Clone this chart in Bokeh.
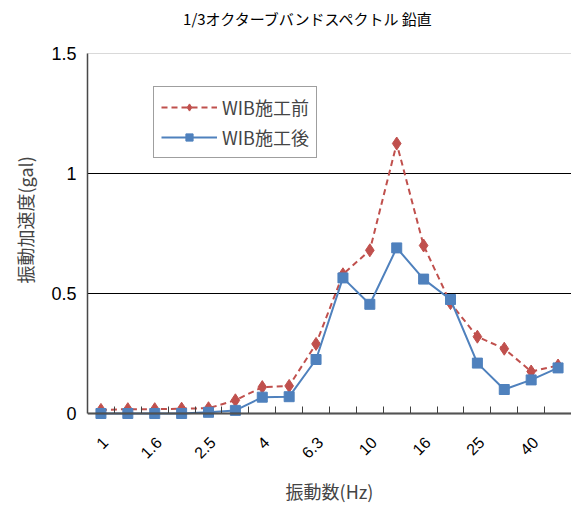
import math
from bokeh.plotting import figure
from bokeh.models import (FixedTicker, Legend, LegendItem, Range1d, Label,
                          LinearAxis, BoxAnnotation, Title)
from bokeh.embed import file_html
from bokeh.resources import INLINE

freqs = ["1", "1.25", "1.6", "2", "2.5", "3.15", "4", "5", "6.3", "8", "10",
         "12.5", "16", "20", "25", "31.5", "40", "50"]
before = [0.015, 0.018, 0.018, 0.02, 0.022, 0.055, 0.11, 0.115, 0.29, 0.58, 0.68,
          1.125, 0.70, 0.46, 0.32, 0.27, 0.175, 0.20]
after = [0.0, 0.0, 0.0, 0.0, 0.005, 0.013, 0.068, 0.07, 0.225, 0.565, 0.455,
         0.69, 0.56, 0.475, 0.21, 0.10, 0.14, 0.19]
yticks = [0, 0.5, 1, 1.5]
ylabels = ["0", "0.5", "1", "1.5"]

title = "1/3オクターブバンドスペクトル 鉛直"
xlabel = "振動数(Hz)"
ylabel = "振動加速度(gal)"
name_before = "WIB施工前"
name_after = "WIB施工後"

RED = "#C0504D"
BLUE = "#4F81BD"
JP = "Noto Sans CJK JP"
NUM = "Liberation Sans"

xs = list(range(len(freqs)))
x0, x1 = -0.5, len(freqs) - 0.5
y0, y1 = yticks[0], yticks[-1]

# layout (pixels): the 0..1.5 box spans y=53..413; the frame extends
# above and below it so that the title and rotated labels are inside it
BOX_TOP, BOX_H = 53, 360
TOP, LEFT = 5, 86
FRAME_W, FRAME_H = 484, 460
PX_PER_UNIT = BOX_H / (y1 - y0)
yend = y1 + (BOX_TOP - TOP) / PX_PER_UNIT
ystart = yend - FRAME_H / PX_PER_UNIT

p = figure(width=None, height=None, frame_width=FRAME_W, frame_height=FRAME_H,
           output_backend="svg", toolbar_location=None, x_axis_location=None,
           x_range=Range1d(x0, x1), y_range=Range1d(ystart, yend),
           min_border_left=LEFT, min_border_right=0, min_border_top=TOP,
           min_border_bottom=38)
p.title = None

p.outline_line_color = None
p.background_fill_color = "white"
p.border_fill_color = "white"

# chart title
p.add_layout(Label(x=(x0 + x1) / 2, y=y1, text=title, x_offset=-21,
                   y_offset=BOX_TOP - 18, text_align="center",
                   text_baseline="middle", text_font=JP,
                   text_font_size="15px", text_color="black"))

# plot area border
p.add_layout(BoxAnnotation(left=x0, right=x1, bottom=y0, top=y1,
                           fill_alpha=0, line_color="#808080", line_width=1))

for g in p.xgrid:
    g.grid_line_color = None
p.ygrid.ticker = FixedTicker(ticks=yticks[1:-1])
p.ygrid.grid_line_color = "black"
p.ygrid.grid_line_width = 1

# x axis at value 0 with inside ticks at category boundaries
xa = LinearAxis(fixed_location=y0,
                ticker=FixedTicker(ticks=[], minor_ticks=[i + 0.5 for i in xs[:-1]]),
                major_tick_in=0, major_tick_out=0, minor_tick_in=7,
                minor_tick_out=0, minor_tick_line_color="#404040",
                axis_line_color="#404040", axis_line_width=2,
                major_label_text_font_size="0px")
p.add_layout(xa, "below")

# x axis title
xt = LinearAxis(ticker=FixedTicker(ticks=[]), axis_line_color=None,
                major_tick_in=0, major_tick_out=0, minor_tick_in=0,
                minor_tick_out=0, major_label_text_font_size="0px",
                axis_label=xlabel, axis_label_text_font=JP,
                axis_label_text_font_size="18px",
                axis_label_text_font_style="normal", axis_label_standoff=12)
p.add_layout(xt, "below")

# rotated category labels (every other one)
for i in xs[::2]:
    p.add_layout(Label(x=i, y=y0, text=freqs[i], angle=math.pi / 4,
                       text_align="right", text_baseline="middle",
                       x_offset=4, y_offset=-26, text_font=NUM,
                       text_font_size="16px", text_color="black"))

# y axis
ya = p.yaxis[0]
ya.bounds = (y0, y1)
ya.ticker = FixedTicker(ticks=yticks)
ya.major_label_overrides = {float(t): l for t, l in zip(yticks, ylabels)}
ya.major_tick_in = 0
ya.major_tick_out = 0
ya.minor_tick_line_color = None
ya.axis_line_color = "#404040"
ya.axis_line_width = 1.5
ya.major_label_text_font = NUM
ya.major_label_text_font_size = "18px"
ya.major_label_text_color = "black"
ya.major_label_standoff = 11

# y axis title, placed along the 0..1.5 box
yt = Title(text=ylabel, align="left", vertical_align="middle", offset=182,
           standoff=20, text_font=JP, text_font_size="18px",
           text_font_style="normal")
p.add_layout(yt, "left")

r1l = p.line(xs, before, line_color=RED, line_width=2, line_dash="6 4")
r1s = p.scatter(xs, before, marker="diamond", size=13, fill_color=RED, line_color=RED)
r2l = p.line(xs, after, line_color=BLUE, line_width=2)
r2s = p.scatter(xs, after, marker="square", size=10, fill_color=BLUE, line_color=BLUE)

legend = Legend(items=[LegendItem(label=name_before, renderers=[r1l, r1s]),
                       LegendItem(label=name_after, renderers=[r2l, r2s])],
                location=(66, TOP + FRAME_H - 158))
legend.glyph_width = 56
legend.glyph_height = 18
legend.label_text_font = JP
legend.label_text_font_size = "18px"
legend.label_standoff = 5
legend.spacing = 4
legend.padding = 7
legend.border_line_color = "#404040"
legend.border_line_width = 1
legend.background_fill_alpha = 1
p.add_layout(legend)

open("out.html", "w").write(file_html(p, INLINE))
